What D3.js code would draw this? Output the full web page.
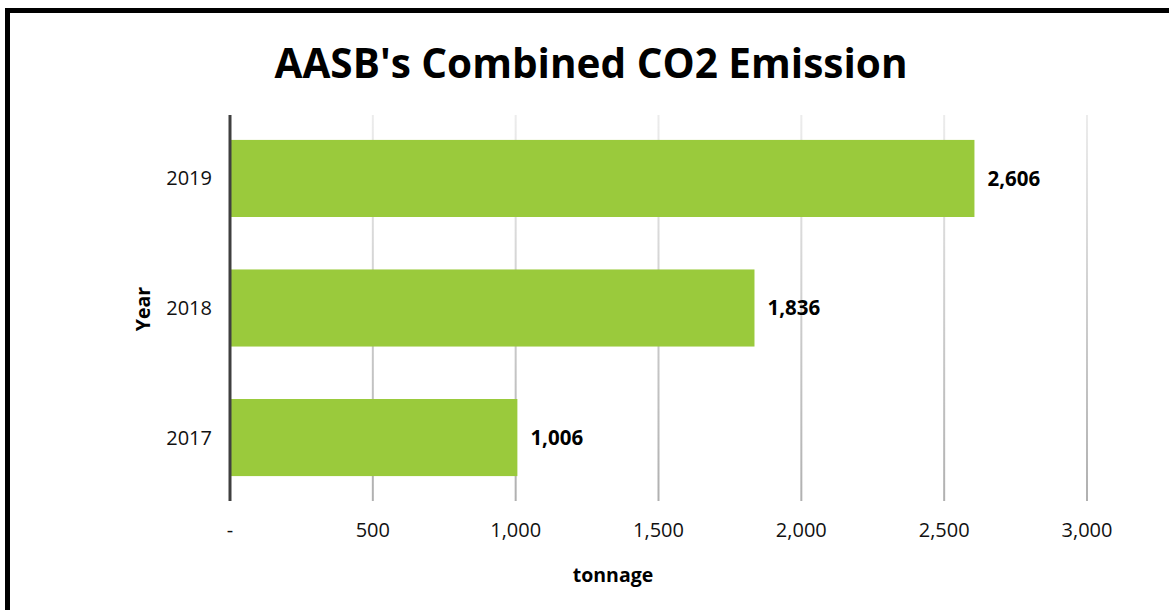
<!DOCTYPE html>
<html>
<head>
<meta charset="utf-8">
<script src="https://cdn.jsdelivr.net/npm/d3@7"></script>
<style>
  body { margin: 0; background: #fff; }
  svg { display: block; font-family: "Open Sans", sans-serif; }
  .grid line { stroke: url(#gridFade); stroke-width: 2; }
  .bar { fill: #9aca3c; }
  .tick-label { font-size: 20px; fill: #111; }
  .value { font-size: 20.5px; font-weight: bold; fill: #000; }
  .axis-title { font-size: 19.5px; font-weight: bold; fill: #000; }
  .title { font-size: 40.5px; font-weight: bold; fill: #000; }
</style>
</head>
<body>
<svg id="chart" width="1169" height="610"></svg>
<script>
const years = ["2019", "2018", "2017"];
const tonnage = [2606, 1836, 1006];
const xTicks = [0, 500, 1000, 1500, 2000, 2500, 3000];

const svg = d3.select("#chart");

const defs = svg.append("defs");
const grad = defs.append("linearGradient")
  .attr("id", "gridFade")
  .attr("gradientUnits", "userSpaceOnUse")
  .attr("x1", 0).attr("y1", 115).attr("x2", 0).attr("y2", 501);
grad.append("stop").attr("offset", "0%").attr("stop-color", "#ececec");
grad.append("stop").attr("offset", "100%").attr("stop-color", "#b0b0b0");

// outer frame (runs off right and bottom edges)
svg.append("rect")
  .attr("x", 7.5).attr("y", 10.5)
  .attr("width", 1200).attr("height", 700)
  .attr("fill", "none")
  .attr("stroke", "#000")
  .attr("stroke-width", 5);

const x = d3.scaleLinear().domain([0, 3000]).range([230, 1087]);
const y = d3.scaleBand().domain(years).range([114, 502]).paddingInner(0.405).paddingOuter(0.2);

const plotTop = 115, plotBottom = 501;

// gridlines
svg.append("g").attr("class", "grid")
  .selectAll("line")
  .data(xTicks.slice(1))
  .join("line")
  .attr("x1", d => x(d)).attr("x2", d => x(d))
  .attr("y1", plotTop).attr("y2", plotBottom);

// bars
svg.append("g")
  .selectAll("rect")
  .data(tonnage)
  .join("rect")
  .attr("class", "bar")
  .attr("x", x(0))
  .attr("y", (d, i) => y(years[i]))
  .attr("width", d => x(d) - x(0))
  .attr("height", y.bandwidth());

// value labels
const fmt = d3.format(",");
svg.append("g")
  .selectAll("text")
  .data(tonnage)
  .join("text")
  .attr("class", "value")
  .attr("x", d => x(d) + 13)
  .attr("y", (d, i) => y(years[i]) + y.bandwidth() / 2)
  .attr("dy", "0.35em")
  .text(d => fmt(d));

// y axis line
svg.append("line")
  .attr("x1", x(0)).attr("x2", x(0))
  .attr("y1", plotTop).attr("y2", plotBottom)
  .attr("stroke", "#404040")
  .attr("stroke-width", 3);

// y tick labels
svg.append("g")
  .selectAll("text")
  .data(years)
  .join("text")
  .attr("class", "tick-label")
  .attr("x", 212)
  .attr("y", d => y(d) + y.bandwidth() / 2)
  .attr("dy", "0.35em")
  .attr("text-anchor", "end")
  .text(d => d);

// x tick labels
svg.append("g")
  .selectAll("text")
  .data(xTicks)
  .join("text")
  .attr("class", "tick-label")
  .attr("x", d => x(d))
  .attr("y", 537)
  .attr("text-anchor", "middle")
  .text(d => d === 0 ? "-" : fmt(d));

// axis titles
svg.append("text")
  .attr("class", "axis-title")
  .attr("x", 613).attr("y", 582)
  .attr("text-anchor", "middle")
  .text("tonnage");

svg.append("text")
  .attr("class", "axis-title")
  .attr("transform", "translate(150,309) rotate(-90)")
  .attr("text-anchor", "middle")
  .text("Year");

// title
svg.append("text")
  .attr("class", "title")
  .attr("x", 591).attr("y", 78)
  .attr("text-anchor", "middle")
  .text("AASB's Combined CO2 Emission");
</script>
</body>
</html>
